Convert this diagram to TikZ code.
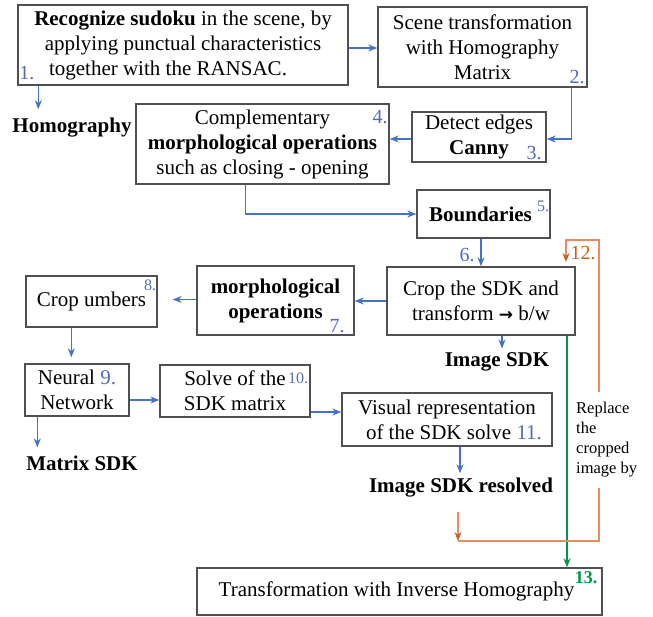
\documentclass[tikz,border=0pt]{standalone}
\usepackage{fontspec}
\setmainfont{Liberation Serif}
\newfontfamily\symf{DejaVu Sans}
\usetikzlibrary{arrows.meta,calc}
\definecolor{arrblue}{RGB}{68,114,196}
\definecolor{numblue}{RGB}{85,105,185}
\definecolor{boxgray}{RGB}{80,80,80}
\definecolor{orgline}{RGB}{232,140,100}
\definecolor{orgdark}{RGB}{200,95,30}
\definecolor{grn}{RGB}{0,150,70}
\begin{document}
\begin{tikzpicture}[x=1pt,y=-1pt,
  box/.style={draw=boxgray, line width=1.4pt, align=center, inner sep=0pt, font=\fontsize{21}{25}\selectfont},
  lbl/.style={font=\fontsize{21}{25}\selectfont\bfseries, inner sep=0pt},
  num/.style={text=numblue, font=\fontsize{20}{24}\selectfont, inner sep=0pt},
  supnum/.style={text=numblue, font=\fontsize{16}{18}\selectfont, inner sep=0pt},
  arr/.style={draw=arrblue, line width=1.1pt, -{Stealth[length=9pt,width=7pt]}},
  oarr/.style={draw=orgline, line width=1.3pt, -{Stealth[length=9pt,width=7pt,color=orgdark]}},
]
\useasboundingbox (0,0) rectangle (653,617);

% boxes
\node[box, minimum width=330pt, minimum height=80pt] (b1) at (183,45)
  {\textbf{Recognize sudoku} in the scene, by\\ applying punctual characteristics\\ together with the RANSAC.\hspace*{30pt}};
\node[box, minimum width=209pt, minimum height=80pt] (b2) at (482.5,47)
  {Scene transformation\\ with Homography\\ Matrix};
\node[box, minimum width=134pt, minimum height=50pt] (b3) at (479,137)
  {Detect edges\\ \textbf{Canny}};
\node[box, minimum width=253pt, minimum height=80pt] (b4) at (262.5,144)
  {Complementary\\ \textbf{morphological operations}\\ such as closing - opening};
\node[box, minimum width=133pt, minimum height=48pt] (b5) at (483.5,214)
  {\textbf{Boundaries}\hspace*{6pt}};
\node[box, minimum width=188pt, minimum height=68pt] (b6) at (481,301)
  {Crop the SDK and\\ transform {\symf\bfseries\fontsize{17}{25}\selectfont →} b/w};
\node[box, minimum width=157pt, minimum height=69pt, font=\fontsize{21}{25}\selectfont\bfseries] (b7) at (275.5,300.5)
  {morphological\\ operations};
\node[box, minimum width=131pt, minimum height=51pt] (b8) at (91.5,301.5)
  {Crop umbers};
\node[box, minimum width=104pt, minimum height=52pt] (b9) at (77,390)
  {Neural \textcolor{numblue}{9.}\\ Network};
\node[box, minimum width=150pt, minimum height=52pt] (b10) at (235,391)
  {Solve of the\\ SDK matrix};
\node[box, minimum width=210pt, minimum height=53pt] (b11) at (447,419.5)
  {Visual representation\\ \hspace*{14pt}of the SDK solve \textcolor{numblue}{11.}};
\node[box, minimum width=405pt, minimum height=47pt] (b13) at (399.5,591.5)
  {Transformation with Inverse Homography\hspace*{6pt}};

% number labels
\node[num] (n1) at (27,73) {1.};
\node[num] (n2) at (577,77) {2.};
\node[num] (n3) at (534,153) {3.};
\node[num] (n4) at (380,117) {4.};
\node[supnum] (n5) at (543,206) {5.};
\node[num] (n6) at (467,255) {6.};
\node[num] (n7) at (337,326) {7.};
\node[supnum] (n8) at (150,285) {8.};
\node[supnum] (n10) at (298,378) {10.};
\node[text=orgdark, font=\fontsize{20}{24}\selectfont, inner sep=0pt] (n12) at (583,253) {12.};
\node[text=grn, font=\fontsize{18}{22}\selectfont\bfseries, inner sep=0pt] (n13) at (586,578) {13.};

% output labels
\node[lbl] (hom) at (72,128) {Homography};
\node[lbl] (msdk) at (82,463) {Matrix SDK};
\node[lbl] (isdk) at (497,362) {Image SDK};
\node[lbl] (isdkr) at (461,488) {Image SDK resolved};

% blue connectors
\draw[arr] ([yshift=-3pt]b1.east) -- ([yshift=-3pt]b1.east -| b2.west);
\draw[arr, shorten >=9pt] ([xshift=21pt]b1.south west) -- ([xshift=21pt]b1.south west |- hom.north);
\draw[arr] ([xshift=-16pt]b2.south east) |- ([yshift=-2pt]b3.east);
\draw[arr] ([yshift=-2pt]b3.west) -- ([yshift=-2pt]b3.west -| b4.east);
\draw[arr] ([xshift=110pt]b4.south west) |- (b5.west);
\draw[arr] (b5.south -| b6.north) -- (b6.north);
\draw[arr] (b6.west) -- (b6.west -| b7.east);
\draw[arr, shorten >=15pt] ([yshift=1pt]b7.west) -- ([yshift=1pt]b7.west -| b8.east);
\draw[arr, shorten >=6pt] ([xshift=46pt]b8.south west) -- ([xshift=46pt]b8.south west |- b9.north);
\draw[arr, shorten >=8pt] ([xshift=13pt]b9.south west) -- ([xshift=13pt]b9.south west |- msdk.north);
\draw[arr] ([yshift=-10pt]b9.east) -- ([yshift=-10pt]b9.east -| b10.west);
\draw[arr] ([yshift=-21pt]b10.east) -- ([yshift=-21pt]b10.east -| b11.west);
\draw[arr, shorten >=5pt] ([xshift=13pt]b11.south) -- ([xshift=13pt]b11.south |- isdkr.north);
\draw[arr, shorten >=4pt] ([xshift=21pt]b6.south) -- ([xshift=21pt]b6.south |- isdk.north);

% green connector
\draw[draw=grn, line width=1.5pt, -{Stealth[length=9pt,width=7pt]}] ([xshift=86pt]b6.south) -- ([xshift=86pt]b6.south |- b13.north);

% orange connector
\coordinate (o1) at (458,541);
\coordinate (o2) at (599,541);
\coordinate (o3) at (599,240);
\coordinate (o4) at (566,240);
\coordinate (o5) at (566,262);
\draw[oarr, shorten <=14pt] (isdkr.south -| o1) -- (o1);
\draw[oarr] (o1) -- (o2) -- (o3) -- (o4) -- (o5);

\node[fill=white, align=left, anchor=west, inner xsep=2pt, inner ysep=10pt,
      font=\fontsize{16.5}{20}\selectfont] (rep) at (574,440)
  {Replace\\the\\cropped\\image by};
\end{tikzpicture}
\end{document}
